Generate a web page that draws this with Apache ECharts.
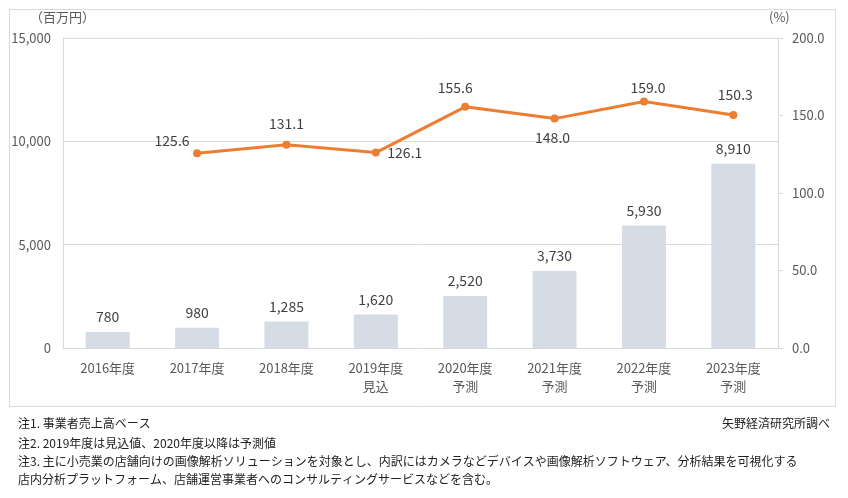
<!DOCTYPE html>
<html><head><meta charset="utf-8">
<script src="https://cdn.jsdelivr.net/npm/echarts@6/dist/echarts.min.js"></script>
<style>html,body{margin:0;padding:0;background:#fff}#c{width:848px;height:498px}</style>
</head><body><div id="c"></div>
<script>
const categories = ['2016年度', '2017年度', '2018年度', '2019年度\n見込', '2020年度\n予測', '2021年度\n予測', '2022年度\n予測', '2023年度\n予測'];
const marketSize = [780, 980, 1285, 1620, 2520, 3730, 5930, 8910];
const growthRate = [null, 125.6, 131.1, 126.1, 155.6, 148.0, 159.0, 150.3];
const leftTicks = { min: 0, max: 15000, interval: 5000 };
const rightTicks = { min: 0, max: 200, interval: 50 };
const notes = [
  '注1. 事業者売上高ベース',
  '注2. 2019年度は見込値、2020年度以降は予測値',
  '注3. 主に小売業の店舗向けの画像解析ソリューションを対象とし、内訳にはカメラなどデバイスや画像解析ソフトウェア、分析結果を可視化する',
  '店内分析プラットフォーム、店舗運営事業者へのコンサルティングサービスなどを含む。'
];
const source = '矢野経済研究所調べ';
// label offsets for line (manual placement as in original)
const lineLabelOffsets = [null, [-25, -13], [0, -21], [29, 0], [-10, -19], [-2, 19], [4, -14], [2, -20]];

const FONT = '"Noto Sans CJK JP", "Noto Sans", sans-serif';
const chart = echarts.init(document.getElementById('c'));
const lineData = growthRate.map((v, i) => v == null ? null : ({
  value: v,
  label: { offset: lineLabelOffsets[i] }
}));
const noteTops = [417, 437, 455, 473];
const graphics = [
  { type: 'rect', shape: { x: 9.5, y: 9.5, width: 826, height: 397 }, style: { fill: 'none', stroke: '#D9D9D9', lineWidth: 1 }, silent: true },
  { type: 'text', left: 30, top: 11, style: { text: '（百万円）', font: '13px ' + FONT, fill: '#595959' } },
  { type: 'text', left: 769, top: 11, style: { text: '(%)', font: '13px ' + FONT, fill: '#595959' } },
  { type: 'text', right: 18, top: 417, style: { text: source, font: '12px ' + FONT, fill: '#222' } }
];
notes.forEach((t, i) => graphics.push({ type: 'text', left: 18, top: noteTops[i], style: { text: t, font: '12px ' + FONT, fill: '#222' } }));

chart.setOption({
  animation: false,
  textStyle: { fontFamily: FONT },
  grid: { left: 63, right: 70, top: 38, bottom: 150, containLabel: false },
  xAxis: {
    type: 'category', data: categories,
    axisLine: { show: true, lineStyle: { color: '#D9D9D9' } },
    axisTick: { show: false },
    axisLabel: { color: '#595959', fontSize: 13, lineHeight: 18, margin: 11, interval: 0 }
  },
  yAxis: [
    {
      type: 'value', min: leftTicks.min, max: leftTicks.max, interval: leftTicks.interval,
      axisLine: { show: true, lineStyle: { color: '#D9D9D9' } },
      axisTick: { show: false },
      splitLine: { lineStyle: { color: '#D9D9D9' } },
      axisLabel: { color: '#595959', fontSize: 13, margin: 12, formatter: v => v.toLocaleString('en-US') }
    },
    {
      type: 'value', min: rightTicks.min, max: rightTicks.max, interval: rightTicks.interval,
      axisLine: { show: true, lineStyle: { color: '#D9D9D9' } },
      axisTick: { show: true, length: 5, lineStyle: { color: '#D9D9D9' } },
      splitLine: { show: false },
      axisLabel: { color: '#595959', fontSize: 13, margin: 14, formatter: v => v.toFixed(1) }
    }
  ],
  series: [
    {
      type: 'bar', data: marketSize, barWidth: 44, yAxisIndex: 0,
      itemStyle: { color: '#D6DCE5' },
      label: { show: true, position: 'top', distance: 8, color: '#404040', fontSize: 14, formatter: p => p.value.toLocaleString('en-US') }
    },
    {
      type: 'line', data: lineData, yAxisIndex: 1,
      lineStyle: { color: '#ED7D31', width: 3 },
      itemStyle: { color: '#ED7D31' },
      symbol: 'circle', symbolSize: 8,
      label: { show: true, position: 'inside', color: '#404040', fontSize: 14, formatter: p => p.value.toFixed(1) }
    }
  ],
  graphic: graphics
});
</script></body></html>
